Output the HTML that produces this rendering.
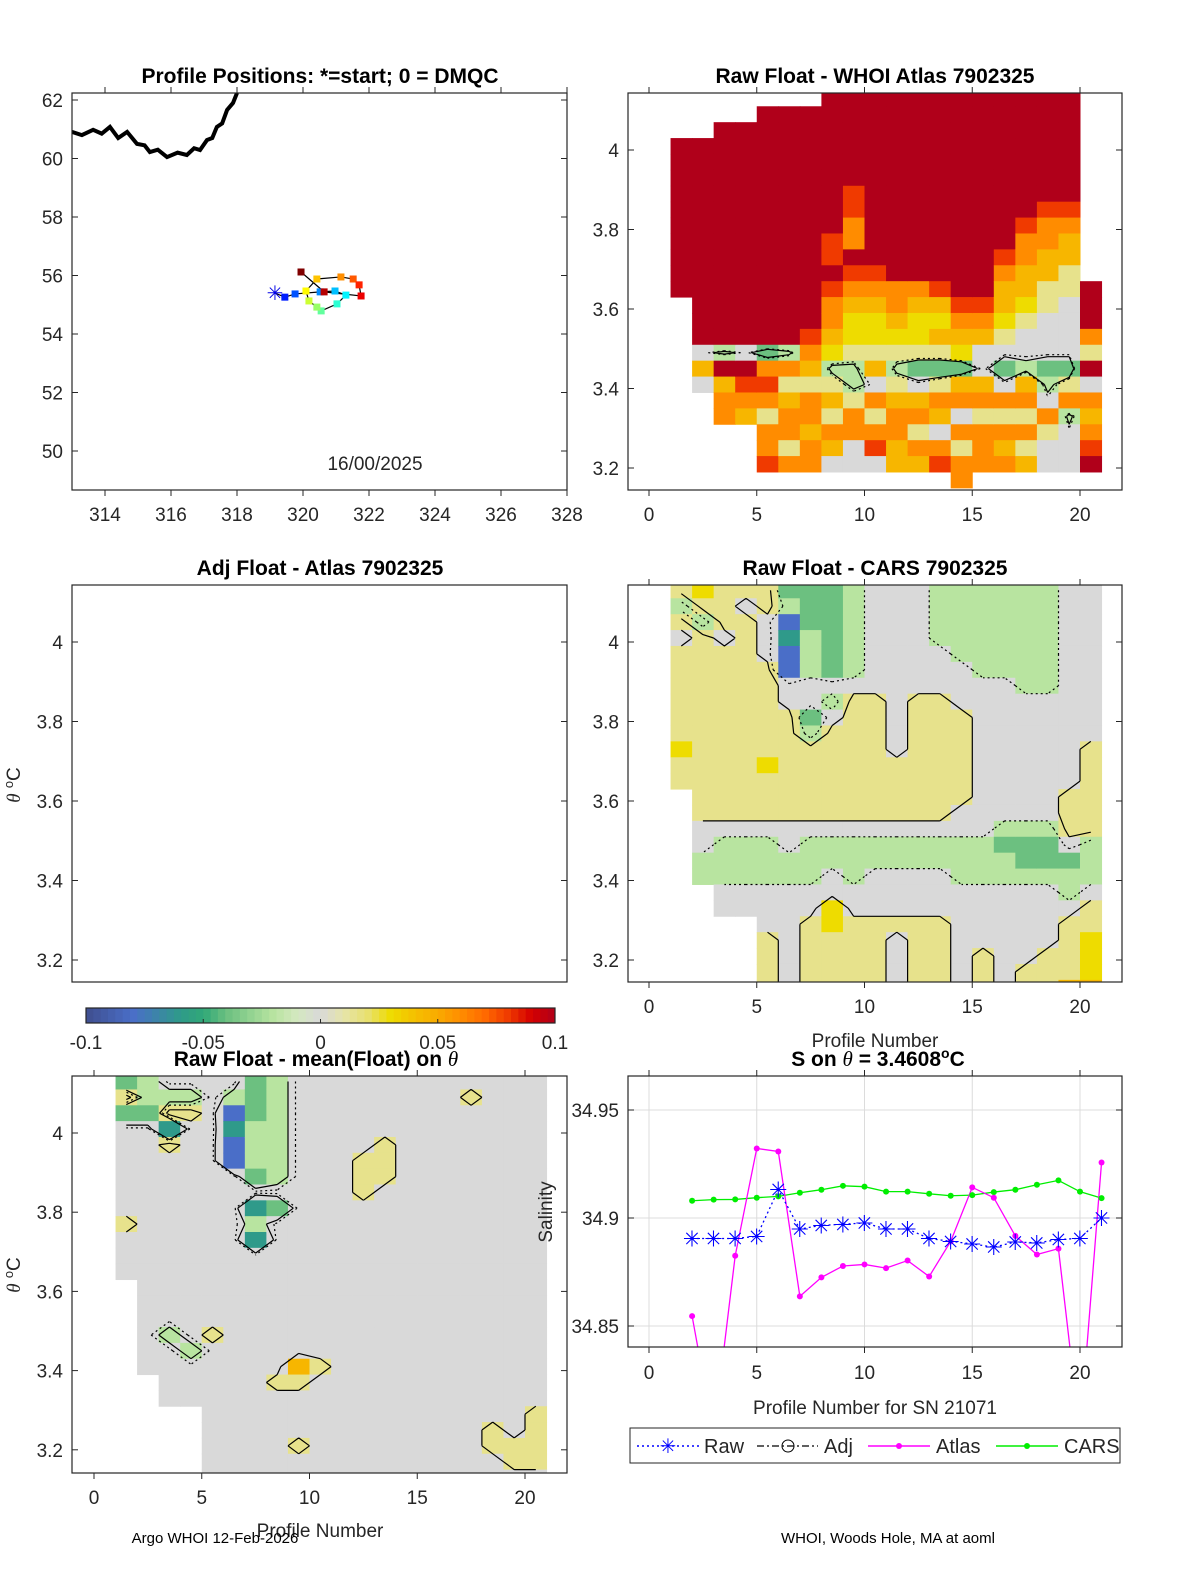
<!DOCTYPE html>
<html><head><meta charset="utf-8"><style>
html,body{margin:0;padding:0;background:#fff}
svg{display:block;font-family:"Liberation Sans","DejaVu Sans",sans-serif}
.t{font-size:21px;font-weight:bold;text-anchor:middle}
.tk{font-size:19px;fill:#262626}
</style></head><body>
<svg id="fig" width="1200" height="1575" viewBox="0 0 1200 1575" xmlns="http://www.w3.org/2000/svg">
<defs>
<clipPath id="c1"><rect x="72" y="93" width="495" height="397"/></clipPath>
<clipPath id="c2"><rect x="628" y="93" width="494" height="397"/></clipPath>
<clipPath id="c4"><rect x="628" y="585" width="494" height="397"/></clipPath>
<clipPath id="c5"><rect x="72" y="1076" width="495" height="397"/></clipPath>
<clipPath id="c6"><rect x="628" y="1076" width="494" height="271"/></clipPath>
</defs>
<g id="layer"></g>
<text class="t" x="320" y="83">Profile Positions: *=start; 0 = DMQC</text>
<text class="t" x="875" y="83">Raw Float - WHOI Atlas  7902325</text>
<text class="t" x="320" y="575">Adj Float - Atlas  7902325</text>
<text class="t" x="875" y="575">Raw Float - CARS  7902325</text>
<text class="t" x="316" y="1066">Raw Float - mean(Float) on <tspan font-family="Liberation Serif" font-style="italic" font-weight="normal">θ</tspan></text>
<text class="t" x="878" y="1066">S on <tspan font-family="Liberation Serif" font-style="italic" font-weight="normal">θ</tspan> = 3.4608<tspan dy="-8" font-size="14">o</tspan><tspan dy="8">C</tspan></text>
<text class="tk" x="375" y="470" text-anchor="middle">16/00/2025</text>
<text class="tk" x="875" y="1047" text-anchor="middle" font-size="21">Profile Number</text>
<text class="tk" x="320" y="1537" text-anchor="middle" font-size="21">Profile Number</text>
<text class="tk" x="875" y="1414" text-anchor="middle" font-size="21">Profile Number for SN 21071</text>
<text class="tk" transform="translate(552,1212) rotate(-90)" text-anchor="middle" font-size="21">Salinity</text>
<text class="tk" transform="translate(20,785) rotate(-90)" text-anchor="middle"><tspan font-family="Liberation Serif" font-style="italic">θ</tspan> <tspan dy="-7" font-size="13">o</tspan><tspan dy="7">C</tspan></text>
<text class="tk" transform="translate(20,1275) rotate(-90)" text-anchor="middle"><tspan font-family="Liberation Serif" font-style="italic">θ</tspan> <tspan dy="-7" font-size="13">o</tspan><tspan dy="7">C</tspan></text>
<text x="215" y="1543" font-size="15" text-anchor="middle" fill="#000">Argo WHOI 12-Feb-2026</text>
<text x="888" y="1543" font-size="15" text-anchor="middle" fill="#000">WHOI, Woods Hole, MA at aoml</text>
<g>
<rect x="630" y="1428" width="490" height="35" fill="#fff" stroke="#262626" stroke-width="1"/>
<line x1="637" y1="1446" x2="700" y2="1446" stroke="#0000ff" stroke-dasharray="2,3" stroke-width="1.5"/>
<text x="668" y="1453" font-size="20" fill="#0000ff" text-anchor="middle">✳</text>
<text x="704" y="1453" font-size="20" fill="#262626">Raw</text>
<line x1="757" y1="1446" x2="818" y2="1446" stroke="#000" stroke-dasharray="7,3,2,3" stroke-width="1.2"/>
<circle cx="788" cy="1446" r="6" fill="none" stroke="#000"/>
<text x="824" y="1453" font-size="20" fill="#262626">Adj</text>
<line x1="868" y1="1446" x2="930" y2="1446" stroke="#ff00ff" stroke-width="1.5"/>
<circle cx="899" cy="1446" r="3" fill="#ff00ff"/>
<text x="936" y="1453" font-size="20" fill="#262626">Atlas</text>
<line x1="996" y1="1446" x2="1058" y2="1446" stroke="#00ee00" stroke-width="1.5"/>
<circle cx="1027" cy="1446" r="3" fill="#00ee00"/>
<text x="1064" y="1453" font-size="20" fill="#262626">CARS</text>
</g>
</svg>
<script>
// ---------- data ----------
const trackLon=[319.15,319.45,319.76,320.52,320.97,321.30,321.03,320.55,320.42,320.18,320.09,320.42,321.15,321.52,321.70,321.76,320.64,319.94];
const trackLat=[55.40,55.26,55.37,55.44,55.47,55.33,55.03,54.79,54.92,55.13,55.47,55.88,55.95,55.88,55.68,55.30,55.44,56.12];
const coastLon=[313.0,313.3,313.64,313.9,314.15,314.4,314.67,314.97,315.2,315.36,315.6,315.88,316.2,316.48,316.7,316.88,317.09,317.25,317.39,317.55,317.70,317.88,318.0];
const coastLat=[60.91,60.8,60.98,60.85,61.08,60.7,60.91,60.50,60.45,60.22,60.3,60.05,60.2,60.12,60.35,60.29,60.63,60.7,61.08,61.2,61.66,61.9,62.24];
const mapXTicks=[314,316,318,320,322,324,326,328];
const mapYTicks=[50,52,54,56,58,60,62];
const thetaTicks=[3.2,3.4,3.6,3.8,4.0];
const thetaTickLabels=["3.2","3.4","3.6","3.8","4"];
const profTicks=[0,5,10,15,20];
const salTicks=[34.85,34.9,34.95];
const salTickLabels=["34.85","34.9","34.95"];
const cbTicks=[-0.1,-0.05,0,0.05,0.1];
const cbTickLabels=["-0.1","-0.05","0","0.05","0.1"];
const profiles=[2,3,4,5,6,7,8,9,10,11,12,13,14,15,16,17,18,19,20,21];
const rawSal=[34.8905,34.8905,34.8905,34.8915,34.9131,34.8949,34.8966,34.8971,34.8977,34.8949,34.8949,34.8905,34.8892,34.888,34.8865,34.8889,34.8885,34.89,34.8906,34.9];
const carsSal=[34.908,34.9085,34.9086,34.9094,34.91,34.9117,34.9131,34.9149,34.9145,34.9122,34.9122,34.9112,34.9103,34.9106,34.912,34.9131,34.9154,34.9174,34.9122,34.9092];
const atlasSal=[34.8546,34.80,34.8825,34.9322,34.9308,34.8637,34.8725,34.8778,34.8785,34.8768,34.8803,34.8729,34.8892,34.9142,34.9094,34.8917,34.8831,34.8858,34.80,34.9257];
const levelValues={"0":-0.1,"1":-0.08,"2":-0.06,"3":-0.04,"4":-0.02,"5":0,"6":0.015,"y":0.03,"7":0.045,"8":0.06,"9":0.08,"A":0.1};
const atlasCols=[
"...AAAAAAAAAA.............",
"...AAAAAAAAAAAAA575.......",
"..AAAAAAAAAAAAAA4A788.....",
"..AAAAAAAAAAAAAA5A987.....",
".AAAAAAAAAAAAAAA38986889..",
".AAAAAAAAAAAAAAA48678868..",
".AAAAAAAAAAAAAA987688788..",
"AAAAAAAAA99A9887y4676875..",
"AAAAAA9988A987yy64468855..",
"AAAAAAAAAAA987yy67586895..",
"AAAAAAAAAAAA887y64678877..",
"AAAAAAAAAAAA87yy63578687..",
"AAAAAAAAAAAA97y763687589..",
"AAAAAAAAAAAAA987y37858688.",
"AAAAAAAAAAAAA98755786888..",
"AAAAAAAAAA9877y653586878..",
"AAAAAAAA98877y655478686 7..".replace(" ",""),
"AAAAAAA98877665553458655..",
"AAAAAAA98776655553684555..",
"............AAA86A58789A.."
];
const carsCols=[
"6465666666y66.............",
"y646666666666665544.......",
"666566666666666544455.....",
"656666666666666544455.....",
"66555666666y66654445556666",
"34121155666666655445555555",
"33344455346666654445566666",
"33333354566666654455yy6666",
"44444456666666654445566666",
"55555556666666654455566666",
"55555555555666654455565555",
"55555556666666654455566666",
"44445556666666654455566666",
"44444555666666554445555555",
"44444455555555554445555666",
"44444455555555543445555555",
"44444445555555543345555566",
"44444445555555543345555666",
"55555555555556665344566667",
"5555555555666666444566yyy7"
];
const anomCols=[
"3635555556555.............",
"4435555555555555555.......",
"546265555555555545555.....",
"546555555555555554555.....",
"55555555555555556555555555",
"54121155555555555555555555",
"33344435242555555555555555",
"44444445355555555556555555",
"55555555555555555576555655",
"55555555555555555565555555",
"55555555555555555555555555",
"55555666555555555555555555",
"55556665555555555555555555",
"55555555555555555555555555",
"55555555555555555555555555",
"55555555555555555555555555",
"56555555555555555555555555",
"55555555555555555555556655",
"55555555555555555555555665",
"55555555555555555555566665"
];
// ---------- helpers ----------
const NS="http://www.w3.org/2000/svg";
const layer=document.getElementById('layer');
function mk(tag,attrs,parent){const e=document.createElementNS(NS,tag);for(const k in attrs)e.setAttribute(k,attrs[k]);(parent||layer).appendChild(e);return e;}
const cmap=[[-0.1,63,79,143],[-0.08,74,110,200],[-0.06,47,154,138],[-0.05,48,168,120],[-0.04,108,192,128],[-0.02,184,228,160],[-0.01,212,232,192],[0,217,217,217],[0.01,230,228,168],[0.02,232,224,112],[0.03,238,220,0],[0.04,245,192,0],[0.05,249,171,0],[0.06,255,140,0],[0.07,255,106,0],[0.08,240,58,0],[0.09,212,0,0],[0.1,176,0,26]];
function color(v){v=Math.max(-0.1,Math.min(0.1,v));for(let i=0;i<cmap.length-1;i++){const a=cmap[i],b=cmap[i+1];if(v>=a[0]&&v<=b[0]){const t=(v-a[0])/(b[0]-a[0]);return `rgb(${Math.round(a[1]+t*(b[1]-a[1]))},${Math.round(a[2]+t*(b[2]-a[2]))},${Math.round(a[3]+t*(b[3]-a[3]))})`;}}return '#ccc';}
function axisBox(x,y,w,h,name){const r=mk('rect',{x:x,y:y,width:w,height:h,fill:'none',stroke:'#262626','stroke-width':1.2});}
function xTicks(vals,labels,X,y0,y1,ly,name){vals.forEach((v,i)=>{const x=X(v);mk('line',{x1:x,y1:y1,x2:x,y2:y1-6,stroke:'#262626'});mk('line',{x1:x,y1:y0,x2:x,y2:y0+6,stroke:'#262626'});const t=mk('text',{x:x,y:ly,'text-anchor':'middle',class:'tk'});t.textContent=labels[i];});}
function yTicks(vals,labels,Y,x0,x1,lx,name){vals.forEach((v,i)=>{const y=Y(v);mk('line',{x1:x0,y1:y,x2:x0+6,y2:y,stroke:'#262626'});mk('line',{x1:x1,y1:y,x2:x1-6,y2:y,stroke:'#262626'});const t=mk('text',{x:lx,y:y+7,'text-anchor':'end',class:'tk'});t.textContent=labels[i];});}
function heat(cols,X,Y,clip,name){const g=mk('g',{'clip-path':'url(#'+clip+')'});
 cols.forEach((s,j)=>{const p=profiles[j];for(let i=0;i<s.length;i++){const c=s[i];if(!(c in levelValues))continue;const th=4.13-0.04*i;const x0=X(p-1),x1=X(p),y0=Y(th+0.02),y1=Y(th-0.02);
  const r=mk('rect',{x:x0,y:y0,width:x1-x0+0.5,height:y1-y0+0.5,fill:color(levelValues[c])},g);}});}
// marching-squares contours computed from the same column strings
function contours(cols,X,Y,clip,levels,name){const g=mk('g',{'clip-path':'url(#'+clip+')'});
 const val=(j,i)=>{const c=cols[j][i];return (c in levelValues)?levelValues[c]:null;};
 levels.forEach(L=>{let d='';
  for(let j=0;j<cols.length-1;j++)for(let i=0;i<cols[j].length-1;i++){
   const v=[val(j,i),val(j+1,i),val(j+1,i+1),val(j,i+1)];if(v.some(x=>x===null))continue;
   const pts=[[profiles[j]-0.5,4.13-0.04*i],[profiles[j+1]-0.5,4.13-0.04*i],[profiles[j+1]-0.5,4.13-0.04*(i+1)],[profiles[j]-0.5,4.13-0.04*(i+1)]];
   const cr=[];for(let k=0;k<4;k++){const a=v[k],b=v[(k+1)%4];if((a-L.v)*(b-L.v)<0){const t=(L.v-a)/(b-a);const pa=pts[k],pb=pts[(k+1)%4];cr.push([X(pa[0]+t*(pb[0]-pa[0])),Y(pa[1]+t*(pb[1]-pa[1]))]);}}
   for(let k=0;k+1<cr.length;k+=2)d+=`M${cr[k][0].toFixed(1)},${cr[k][1].toFixed(1)}L${cr[k+1][0].toFixed(1)},${cr[k+1][1].toFixed(1)}`;}
  if(d){const p=mk('path',{d:d,fill:'none',stroke:'#000','stroke-width':1.2,'stroke-dasharray':L.dash},g);}});}
// ---------- panel 1 map ----------
{const X=v=>72+(v-313)*33,Y=v=>100+(62-v)*29.25;
 const g=mk('g',{'clip-path':'url(#c1)'});
 const cl=mk('polyline',{points:coastLon.map((v,i)=>X(v)+','+Y(coastLat[i])).join(' '),fill:'none',stroke:'#000','stroke-width':4,'stroke-linejoin':'miter'},g);
 
 const tl=mk('polyline',{points:trackLon.map((v,i)=>X(v)+','+Y(trackLat[i])).join(' '),fill:'none',stroke:'#000','stroke-width':1.2},g);
 
 const n=trackLon.length;
 function jet(t){const r=Math.max(0,Math.min(1,1.5-Math.abs(4*t-3))),gg=Math.max(0,Math.min(1,1.5-Math.abs(4*t-2))),b=Math.max(0,Math.min(1,1.5-Math.abs(4*t-1)));return `rgb(${Math.round(r*255)},${Math.round(gg*255)},${Math.round(b*255)})`;}
 trackLon.forEach((v,i)=>{const x=X(v),y=Y(trackLat[i]);const c=jet(0.1+0.9*i/(n-1));
  if(i===0){const s=mk('text',{x:x,y:y+7,'text-anchor':'middle','font-size':20,fill:c},g);s.textContent='✳';}
  else{const r=mk('rect',{x:x-3.5,y:y-3.5,width:7,height:7,fill:c},g);}});
 axisBox(72,93,495,397,'map-axes');
 xTicks(mapXTicks,mapXTicks.map(String),X,490,93,521,'map-x');
 yTicks(mapYTicks,mapYTicks.map(String),Y,72,567,63,'map-y');}
// ---------- panel 2 ----------
{const X=p=>649+21.55*p,Y=t=>150+(4-t)*397.5;
 heat(atlasCols,X,Y,'c2','atlas-heatmap');
 contours(atlasCols,X,Y,'c2',[{v:-0.01,dash:'none'},{v:-0.005,dash:'2,3'}],'atlas-contours');
 axisBox(628,93,494,397,'atlas-axes');
 xTicks(profTicks,profTicks.map(String),X,490,93,521,'atlas-x');yTicks(thetaTicks,thetaTickLabels,Y,628,1122,619,'atlas-y');}
// ---------- panel 3 ----------
{const Y=t=>642+(4-t)*397.5;axisBox(72,585,495,397,'adj-axes');yTicks(thetaTicks,thetaTickLabels,Y,72,567,63,'adj-y');}
// ---------- panel 4 ----------
{const X=p=>649+21.55*p,Y=t=>642+(4-t)*397.5;
 heat(carsCols,X,Y,'c4','cars-heatmap');
 contours(carsCols,X,Y,'c4',[{v:0.0075,dash:'none'},{v:-0.01,dash:'2,3'}],'cars-contours');
 axisBox(628,585,494,397,'cars-axes');
 xTicks(profTicks,profTicks.map(String),X,982,585,1013,'cars-x');yTicks(thetaTicks,thetaTickLabels,Y,628,1122,619,'cars-y');}
// ---------- colorbar ----------
{const X=v=>86+(v+0.1)/0.2*469;const n=64;
 for(let i=0;i<n;i++){const v=-0.1+0.2*(i+0.5)/n;const r=mk('rect',{x:X(-0.1+0.2*i/n),y:1008,width:469/n+0.5,height:15,fill:color(v)});}
 axisBox(86,1008,469,15,'colorbar');
 cbTicks.forEach((v,i)=>{mk('line',{x1:X(v),y1:1023,x2:X(v),y2:1019,stroke:'#262626'});const t=mk('text',{x:X(v),y:1049,'text-anchor':'middle',class:'tk','font-size':17});t.textContent=cbTickLabels[i];});}
// ---------- panel 5 ----------
{const X=p=>94+21.55*p,Y=t=>1133+(4-t)*396;
 heat(anomCols,X,Y,'c5','anomaly-heatmap');
 contours(anomCols,X,Y,'c5',[{v:0.0075,dash:'none'},{v:-0.01,dash:'none'},{v:-0.003,dash:'2,3'}],'anomaly-contours');
 axisBox(72,1076,495,397,'anomaly-axes');
 xTicks(profTicks,profTicks.map(String),X,1473,1076,1504,'anomaly-x');yTicks(thetaTicks,thetaTickLabels,Y,72,567,63,'anomaly-y');}
// ---------- panel 6 ----------
{const X=p=>649+21.55*p,Y=s=>1218-(s-34.9)*2160;
 profTicks.forEach(v=>{const l=mk('line',{x1:X(v),y1:1076,x2:X(v),y2:1347,stroke:'#dcdcdc'});});
 salTicks.forEach(v=>{const l=mk('line',{x1:628,y1:Y(v),x2:1122,y2:Y(v),stroke:'#dcdcdc'});});
 const g=mk('g',{'clip-path':'url(#c6)'});
 function series(vals,stroke,dash,name){const pl=mk('polyline',{points:vals.map((v,i)=>X(profiles[i])+','+Y(v)).join(' '),fill:'none',stroke:stroke,'stroke-width':1.3,'stroke-dasharray':dash},g);}
 series(carsSal,'#00ee00','none','cars');series(atlasSal,'#ff00ff','none','atlas');series(rawSal,'#0000ff','2,3','raw');
 carsSal.forEach((v,i)=>{const c=mk('circle',{cx:X(profiles[i]),cy:Y(v),r:3,fill:'#00ee00'},g);});
 atlasSal.forEach((v,i)=>{const c=mk('circle',{cx:X(profiles[i]),cy:Y(v),r:3,fill:'#ff00ff'},g);});
 rawSal.forEach((v,i)=>{const t=mk('text',{x:X(profiles[i]),y:Y(v)+8,'text-anchor':'middle','font-size':22,fill:'#0000ff'},g);t.textContent='✳';});
 axisBox(628,1076,494,271,'salinity-axes');
 xTicks(profTicks,profTicks.map(String),X,1347,1076,1379,'salinity-x');yTicks(salTicks,salTickLabels,Y,628,1122,619,'salinity-y');}
</script>
</body></html>
